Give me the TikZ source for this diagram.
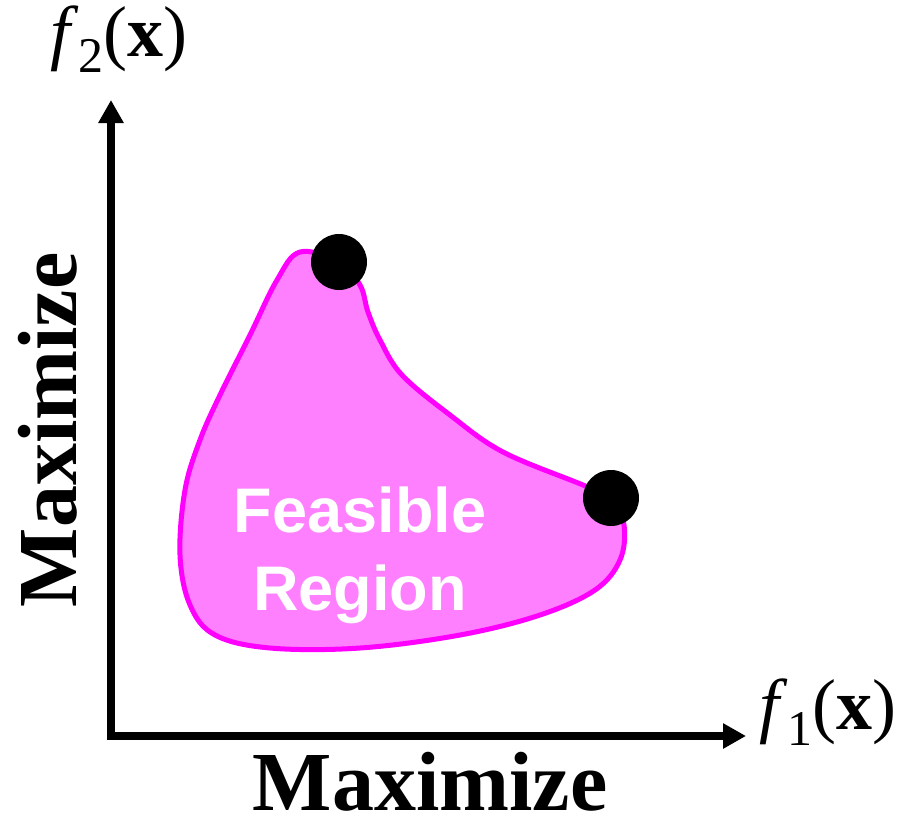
\documentclass[tikz,border=0pt]{standalone}
\usepackage{fontspec}
\setmainfont{Liberation Serif}
\setsansfont{Liberation Sans}
\usetikzlibrary{arrows.meta}
\definecolor{regionFill}{RGB}{255,128,255}
\definecolor{regionStroke}{RGB}{255,0,255}

\begin{document}
\begin{tikzpicture}[
  x=1pt,
  y=-1pt,
  axisLine/.style={line width=8pt, line join=miter,
    {Triangle[length=23pt,width=24pt]}-{Triangle[length=23pt,width=24pt]}},
  region/.style={draw=regionStroke, fill=regionFill, line width=5pt},
  dotMark/.style={circle, fill=black, inner sep=0pt, minimum size=56pt},
  axisLabel/.style={font=\fontsize{72}{72}\selectfont, inner sep=0pt},
  maxLabel/.style={font=\fontsize{84}{84}\selectfont\bfseries, inner sep=0pt, anchor=base},
  regionLabel/.style={font=\fontsize{63}{78}\selectfont\sffamily\bfseries, text=white, align=center}
]
  \useasboundingbox (0,0) rectangle (903,820);

  % axes
  \coordinate (origin) at (111,736);
  \coordinate (ytip) at (111,100);
  \coordinate (xtip) at (746,736);
  \draw[axisLine] (ytip) -- (origin) -- (xtip);

  % feasible region
  \path[region] plot[smooth cycle, tension=0.6] coordinates {
    (300,252) (339,262) (360,285) (368,312) (380,340) (402,375)
    (450,415) (503,452) (583,485) (611,498) (624,525)
    (620,560) (595,590) (540,615) (460,635) (360,648) (270,648)
    (215,635) (190,605) (180,555) (185,490) (200,440) (220,395)
    (250,335) (277,280)};
  \node[regionLabel] (feasible) at (360,555) {Feasible\\Region};

  \node[dotMark] (topDot) at (339,262) {};
  \node[dotMark] (rightDot) at (611,498) {};

  % labels
  \node[axisLabel] (ylabel) at (119,39)
    {\textit{f}\raisebox{-0.22em}{\fontsize{50}{50}\selectfont 2}(\textbf{x})};
  \node[axisLabel] (xlabel) at (828,712)
    {\textit{f}\raisebox{-0.22em}{\fontsize{50}{50}\selectfont 1}(\textbf{x})};
  \node[maxLabel] (xmax) at (430,810) {Maximize};
  \node[maxLabel, rotate=90] (ymax) at (76,430) {Maximize};
\end{tikzpicture}
\end{document}
